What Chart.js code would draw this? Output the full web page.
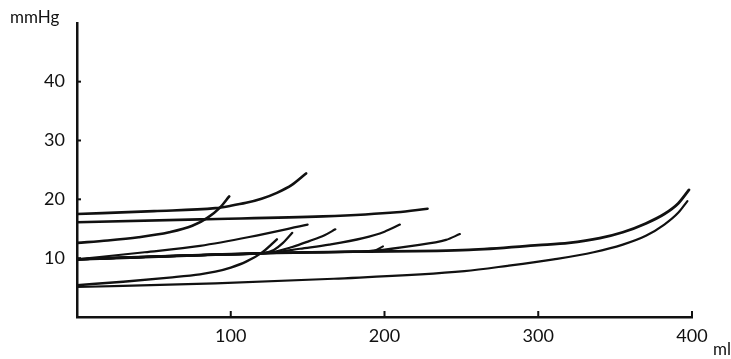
<!DOCTYPE html>
<html>
<head>
<meta charset="utf-8">
<script src="https://cdn.jsdelivr.net/npm/chart.js@4"></script>
<style>
  html, body { margin: 0; padding: 0; background: #fff; }
  #wrap { width: 731px; height: 359px; }
</style>
</head>
<body>
<div id="wrap"><canvas id="c" width="731" height="359"></canvas></div>
<script>
// Pressure–volume curves: volume (ml) against pressure (mmHg), [ml, mmHg] pairs
const curveA = [[0,17.5],[50,18.0],[90,18.5],[100,18.9],[110,19.4],[120,20.1],[130,21.1],[140,22.5],[149,24.4]];
const curveB = [[0,16.1],[80,16.6],[160,17.1],[208,17.8],[228,18.4]];
const curveC = [[0,12.6],[20,13.0],[40,13.55],[60,14.4],[75,15.5],[85,16.9],[93,18.6],[99,20.5]];
const curveD = [[0,9.8],[44,11.0],[80,12.1],[112,13.6],[150,15.7]];
const curveE = [[0,9.8],[90,10.6],[130,10.9],[180,11.1],[255,11.4],[300,12.2],[320,12.6],[340,13.4],[355,14.4],[370,15.9],[382,17.5],[391,19.3],[398,21.6]];
const curveF = [[0,5.4],[30,6.0],[60,6.7],[80,7.25],[90,7.7],[100,8.4],[110,9.4],[120,10.9],[130,13.2]];
const curveG = [[0,9.8],[90,10.6],[122,10.9],[128,11.4],[134,12.6],[140,14.3]];
const curveH = [[0,9.8],[90,10.6],[125,10.95],[140,11.9],[151,12.9],[161,13.9],[168,14.9]];
const curveI = [[0,9.8],[90,10.6],[128,10.95],[145,11.6],[164,12.3],[186,13.4],[200,14.5],[210,15.7]];
const curveJ = [[0,9.8],[90,10.6],[130,10.9],[180,11.1],[194,11.3],[218,12.1],[240,13.1],[249,14.1]];
const curveK = [[0,9.8],[90,10.6],[130,10.9],[180,11.1],[193,11.25],[199,12.0]];
const curveL = [[0,5.1],[90,5.7],[167,6.5],[252,7.8],[280,8.7],[310,9.8],[336,11.0],[355,12.3],[370,13.8],[382,15.7],[391,17.7],[397,19.7]];

// Axis ticks
const xTicks = [100, 200, 300, 400];
const yTicks = [10, 20, 30, 40];
const xUnit = 'ml';
const yUnit = 'mmHg';

const curves = [
  { pts: curveA, w: 2.6 },
  { pts: curveB, w: 2.6 },
  { pts: curveC, w: 2.6 },
  { pts: curveD, w: 2.2 },
  { pts: curveE, w: 2.8 },
  { pts: curveF, w: 2.4 },
  { pts: curveG, w: 2.2 },
  { pts: curveH, w: 2.2 },
  { pts: curveI, w: 2.2 },
  { pts: curveJ, w: 2.2 },
  { pts: curveK, w: 2.0 },
  { pts: curveL, w: 2.2 }
];

const INK = '#111';
const FONT = 'Lato, "DejaVu Sans", sans-serif';

// Short inward tick marks plus the unit captions
const axisDecor = {
  id: 'axisDecor',
  afterDraw(chart) {
    const { ctx, scales: { x, y } } = chart;
    ctx.save();
    ctx.strokeStyle = INK;
    ctx.lineWidth = 2;
    xTicks.forEach(v => {
      const px = x.getPixelForValue(v);
      ctx.beginPath();
      ctx.moveTo(px, y.bottom);
      ctx.lineTo(px, y.bottom - 6);
      ctx.stroke();
    });
    yTicks.forEach(v => {
      const py = y.getPixelForValue(v);
      ctx.beginPath();
      ctx.moveTo(x.left, py);
      ctx.lineTo(x.left + 4, py);
      ctx.stroke();
    });
    ctx.fillStyle = INK;
    ctx.font = '17px ' + FONT;
    ctx.textBaseline = 'middle';
    ctx.textAlign = 'left';
    ctx.fillText(yUnit, 10, 18);
    ctx.fillText(xUnit, 713, 350);
    ctx.restore();
  }
};

new Chart(document.getElementById('c'), {
  type: 'scatter',
  data: {
    datasets: curves.map(c => ({
      data: c.pts.map(([ml, p]) => ({ x: ml, y: p })),
      showLine: true,
      borderColor: INK,
      borderWidth: c.w,
      pointRadius: 0,
      cubicInterpolationMode: 'monotone',
      borderCapStyle: 'round',
      borderJoinStyle: 'round',
      fill: false
    }))
  },
  options: {
    responsive: false,
    animation: false,
    layout: { padding: { top: 12, right: 39, left: 0, bottom: 0 } },
    plugins: { legend: { display: false }, tooltip: { enabled: false } },
    scales: {
      x: {
        type: 'linear',
        min: 0, max: 400,
        afterFit: s => { s.height = 42; },
        afterBuildTicks: s => { s.ticks = xTicks.map(v => ({ value: v })); },
        grid: { display: false, drawTicks: false },
        border: { display: true, color: INK, width: 2.5 },
        ticks: { color: INK, font: { family: FONT, size: 18 }, padding: 8, maxRotation: 0 }
      },
      y: {
        type: 'linear',
        min: 0, max: 50,
        afterFit: s => { s.width = 77; },
        afterBuildTicks: s => { s.ticks = yTicks.map(v => ({ value: v })); },
        grid: { display: false, drawTicks: false },
        border: { display: true, color: INK, width: 2.5 },
        ticks: { color: INK, font: { family: FONT, size: 18 }, padding: 12 }
      }
    }
  },
  plugins: [axisDecor]
});
</script>
</body>
</html>
